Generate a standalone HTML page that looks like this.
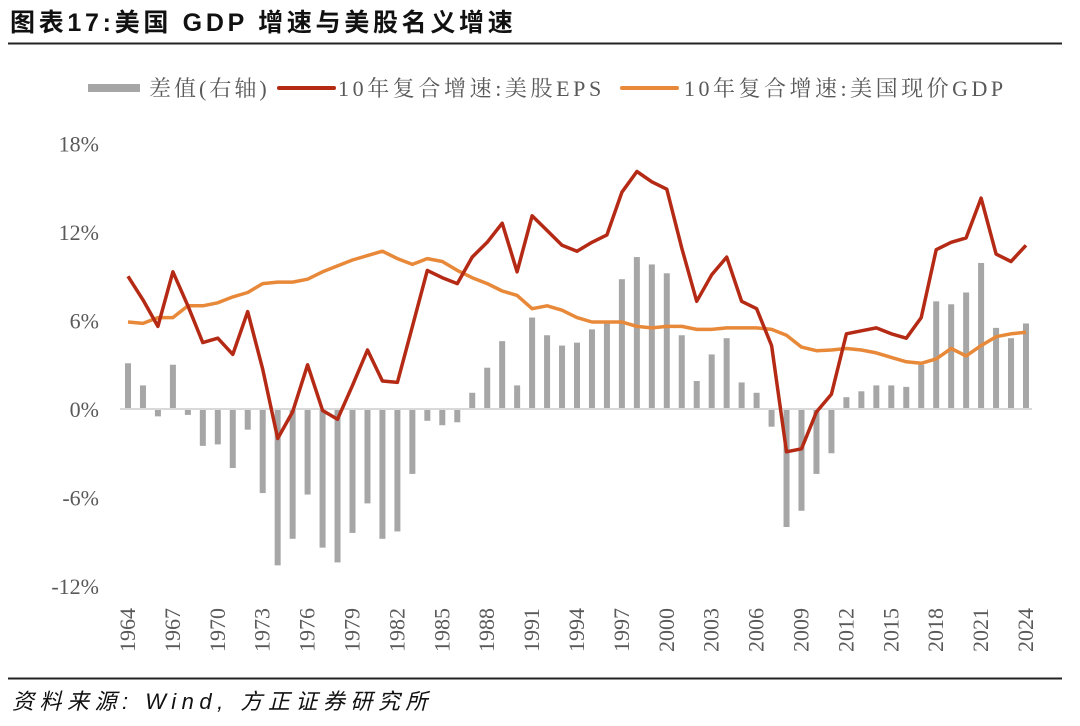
<!DOCTYPE html>
<html><head><meta charset="utf-8"><style>
body{margin:0;background:#fff;}
svg{display:block;}
text{font-family:"Liberation Serif","Noto Serif CJK SC",serif;}
</style></head><body>
<svg id="chart" width="1080" height="726" viewBox="0 0 1080 726">
<text x="10" y="31" font-size="25" font-weight="bold" fill="#111" letter-spacing="3.7" style="font-family:'Liberation Sans','Noto Sans CJK SC',sans-serif">图表17:美国 GDP 增速与美股名义增速</text>
<line x1="8" y1="43.5" x2="1062" y2="43.5" stroke="#222" stroke-width="2"/>
<g>
<rect x="88" y="84" width="52" height="8" fill="#a6a6a6"/>
<text x="149" y="96" font-size="22" fill="#595959" letter-spacing="3">差值(右轴)</text>
<line x1="279" y1="88" x2="334" y2="88" stroke="#b52a14" stroke-width="4" stroke-linecap="round"/>
<text x="338" y="96" font-size="22" fill="#595959" letter-spacing="3.6">10年复合增速:美股EPS</text>
<line x1="622" y1="88" x2="677" y2="88" stroke="#e8893a" stroke-width="4" stroke-linecap="round"/>
<text x="684" y="96" font-size="22" fill="#595959" letter-spacing="3.5">10年复合增速:美国现价GDP</text>
</g>
<g id="yaxis"></g>
<g id="xaxis"></g>
<g id="bars"></g>
<line id="zero" stroke="#d9d9d9" stroke-width="2"/>
<path id="gdp" fill="none" stroke="#e8893a" stroke-width="3.5" stroke-linejoin="round"/>
<path id="eps" fill="none" stroke="#b52a14" stroke-width="3.5" stroke-linejoin="round"/>
<line x1="8" y1="678.5" x2="1062" y2="678.5" stroke="#222" stroke-width="2"/>
<text x="12" y="709" font-size="22" font-style="italic" fill="#111" letter-spacing="5.5" style="font-family:'Liberation Sans','Noto Sans CJK SC',sans-serif">资料来源: Wind, 方正证券研究所</text>
</svg>
<script>
const startYear = 1964;
const epsValues = [9.0,7.4,5.6,9.3,7.0,4.5,4.8,3.7,6.6,2.7,-2.0,-0.2,3.0,-0.1,-0.7,1.6,4.0,1.9,1.8,5.6,9.4,8.9,8.5,10.3,11.3,12.6,9.3,13.1,12.1,11.1,10.7,11.3,11.8,14.7,16.1,15.4,14.9,10.9,7.3,9.1,10.3,7.3,6.8,4.3,-2.9,-2.7,-0.2,1.0,5.1,5.3,5.5,5.1,4.8,6.2,10.8,11.3,11.6,14.3,10.5,10.0,11.1];
const gdpValues = [5.9,5.8,6.2,6.2,7.0,7.0,7.2,7.6,7.9,8.5,8.6,8.6,8.8,9.3,9.7,10.1,10.4,10.7,10.2,9.8,10.2,10.0,9.4,8.9,8.5,8.0,7.7,6.8,7.0,6.7,6.2,5.9,5.9,5.9,5.6,5.5,5.6,5.6,5.4,5.4,5.5,5.5,5.5,5.4,5.0,4.2,3.95,4.0,4.1,4.0,3.8,3.5,3.2,3.1,3.4,4.1,3.6,4.3,4.9,5.1,5.2];
const diffValues = [3.1,1.6,-0.5,3.0,-0.4,-2.5,-2.4,-4.0,-1.4,-5.7,-10.6,-8.8,-5.8,-9.4,-10.4,-8.4,-6.4,-8.8,-8.3,-4.4,-0.8,-1.1,-0.9,1.1,2.8,4.6,1.6,6.2,5.0,4.3,4.5,5.4,5.9,8.8,10.3,9.8,9.2,5.0,1.9,3.7,4.8,1.8,1.1,-1.2,-8.0,-6.9,-4.4,-3.0,0.8,1.2,1.6,1.6,1.5,3.0,7.3,7.1,7.9,9.9,5.5,4.8,5.8];
const yTicks = [18,12,6,0,-6,-12];
const yTickLabels = ["18%","12%","6%","0%","-6%","-12%"];

const NS = "http://www.w3.org/2000/svg";
const X0 = 128, XSTEP = (1026-128)/60;
const x = i => X0 + i*XSTEP;
const y = v => 409 - v*(88.5/6);
function mk(tag, attrs, parent){const e=document.createElementNS(NS,tag);for(const k in attrs)e.setAttribute(k,attrs[k]);parent.appendChild(e);return e;}

const ya = document.getElementById('yaxis');
yTicks.forEach((t,k)=>{
  const e = mk('text',{x:99,y:y(t)+8,'text-anchor':'end','font-size':22,fill:'#595959'},ya);
  
  
  e.textContent = yTickLabels[k];
});
const xa = document.getElementById('xaxis');
for(let i=0;i<epsValues.length;i+=3){
  const cx = x(i);
  const e = mk('text',{x:0,y:0,'font-size':22,fill:'#595959','text-anchor':'middle',transform:`translate(${cx+7},630) rotate(-90)`},xa);
  
  
  e.textContent = String(startYear+i);
}
const bg = document.getElementById('bars');
diffValues.forEach((v,i)=>{
  const top = Math.min(y(v),y(0)), h = Math.abs(y(v)-y(0));
  const r = mk('rect',{x:x(i)-3,y:top,width:6,height:h,fill:'#a6a6a6'},bg);
  
  
});
const z = document.getElementById('zero');
z.setAttribute('x1',120);z.setAttribute('x2',1032);z.setAttribute('y1',y(0));z.setAttribute('y2',y(0));
const path = arr => arr.map((v,i)=>(i?'L':'M')+x(i).toFixed(1)+','+y(v).toFixed(1)).join(' ');
document.getElementById('gdp').setAttribute('d',path(gdpValues));
document.getElementById('eps').setAttribute('d',path(epsValues));
</script>
</body></html>
